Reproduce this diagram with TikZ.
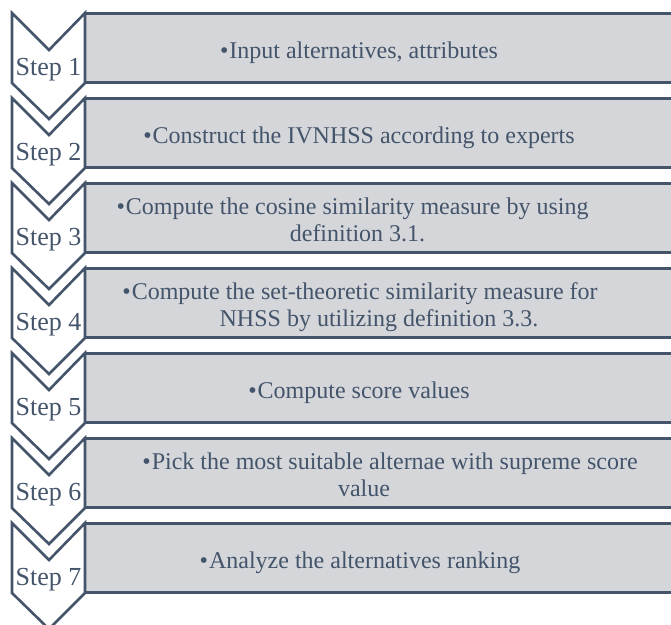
\documentclass[tikz,border=0pt]{standalone}
\usepackage{fontspec}
\setmainfont{Liberation Serif}
\usepackage{tikz}
\usetikzlibrary{calc}
\definecolor{slate}{HTML}{44546A}
\definecolor{boxgray}{HTML}{D4D6DA}

\begin{document}
\begin{tikzpicture}[outer sep=0pt, node distance=0cm, x=1pt, y=-1pt,
    chevron/.style={draw=slate, line width=2.6pt, fill=white, line join=miter},
    box/.style={draw=slate, line width=2.8pt, fill=boxgray, minimum width=590pt,
        minimum height=69pt, inner sep=0pt},
    stepname/.style={anchor=base, text=slate, inner sep=0pt, font=\fontsize{26}{30}\selectfont},
    txt/.style={anchor=base, text=slate, inner sep=0pt, font=\fontsize{24}{27}\selectfont}]

\clip (0, 0) rectangle (671, 624);
\fill [white] (0, 0) rectangle (671, 624);

% boxes on the right
\node [box] at (380, 48) (BOX_1) {};
\node [box] at (380, 133) (BOX_2) {};
\node [box] at (380, 218) (BOX_3) {};
\node [box] at (380, 303) (BOX_4) {};
\node [box] at (380, 388) (BOX_5) {};
\node [box] at (380, 473) (BOX_6) {};
\node [box] at (380, 558) (BOX_7) {};

% chevrons on the left
\draw [chevron] (12, 13) -- ++(37, 37) -- ++(36, -37) -- ++(0, 70) -- ++(-36, 36) -- ++(-37, -36) -- cycle;
\draw [chevron] (12, 98) -- ++(37, 37) -- ++(36, -37) -- ++(0, 70) -- ++(-36, 36) -- ++(-37, -36) -- cycle;
\draw [chevron] (12, 183) -- ++(37, 37) -- ++(36, -37) -- ++(0, 70) -- ++(-36, 36) -- ++(-37, -36) -- cycle;
\draw [chevron] (12, 268) -- ++(37, 37) -- ++(36, -37) -- ++(0, 70) -- ++(-36, 36) -- ++(-37, -36) -- cycle;
\draw [chevron] (12, 353) -- ++(37, 37) -- ++(36, -37) -- ++(0, 70) -- ++(-36, 36) -- ++(-37, -36) -- cycle;
\draw [chevron] (12, 438) -- ++(37, 37) -- ++(36, -37) -- ++(0, 70) -- ++(-36, 36) -- ++(-37, -36) -- cycle;
\draw [chevron] (12, 523) -- ++(37, 37) -- ++(36, -37) -- ++(0, 70) -- ++(-36, 36) -- ++(-37, -36) -- cycle;

\node [stepname] at (48.5, 75) (STEP_1) {Step 1};
\node [stepname] at (48.5, 160) (STEP_2) {Step 2};
\node [stepname] at (48.5, 245) (STEP_3) {Step 3};
\node [stepname] at (48.5, 330) (STEP_4) {Step 4};
\node [stepname] at (48.5, 415) (STEP_5) {Step 5};
\node [stepname] at (48.5, 500) (STEP_6) {Step 6};
\node [stepname] at (48.5, 585) (STEP_7) {Step 7};

% texts
\node [txt] at (359, 58) (TEXT_1) {\textbullet\hspace{1pt}Input alternatives, attributes};
\node [txt] at (359, 143) (TEXT_2) {\textbullet\hspace{1pt}Construct the IVNHSS according to experts};
\node [txt] at (352.5, 214) (TEXT_3A) {\textbullet\hspace{1pt}Compute the cosine similarity measure by using};
\node [txt] at (357.5, 241) (TEXT_3B) {definition 3.1.};
\node [txt] at (360, 299) (TEXT_4A) {\textbullet\hspace{1pt}Compute the set-theoretic similarity measure for};
\node [txt] at (379, 326) (TEXT_4B) {NHSS by utilizing definition 3.3.};
\node [txt] at (359, 398) (TEXT_5) {\textbullet\hspace{1pt}Compute score values};
\node [txt] at (390, 469) (TEXT_6A) {\textbullet\hspace{1pt}Pick the most suitable alternae with supreme score};
\node [txt] at (364, 496) (TEXT_6B) {value};
\node [txt] at (360, 568) (TEXT_7) {\textbullet\hspace{1pt}Analyze the alternatives ranking};
\end{tikzpicture}
\end{document}
